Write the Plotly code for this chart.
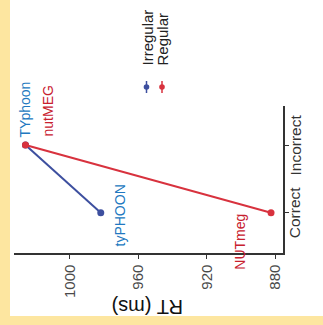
import plotly.graph_objects as go

# ---- data ----
categories = ["Correct", "Incorrect"]
series_names = ["Irregular", "Regular"]
irregular_rt = [982, 1026]
regular_rt = [882.5, 1026]
irregular_labels = ["tyPHOON", "TYphoon"]
regular_labels = ["NUTmeg", "nutMEG"]
x_tick_vals = [1000, 960, 920, 880]
x_tick_text = ["1000", "960", "920", "880"]
axis_title = "RT (ms)"

# ---- style ----
W, H = 323, 325
L, R, T, B = 14, 40, 106, 72
PW, PH = W - L - R, H - T - B
FONT = "Arial, Liberation Sans, sans-serif"
line_cols = ["#3d4f9f", "#d8323e"]
text_cols = ["#2178c0", "#c8202e"]
yellow = "#fde6a0"


def px_x(px):
    return (px - L) / PW


def px_y(py):
    return (H - B - py) / PH


fig = go.Figure()
for name, vals, lc in zip(series_names, [irregular_rt, regular_rt], line_cols):
    fig.add_trace(go.Scatter(
        x=vals, y=categories, mode="lines+markers", name=name,
        line=dict(color=lc, width=2), marker=dict(color=lc, size=7),
        showlegend=False, cliponaxis=False, hoverinfo="skip",
    ))

# data labels (rotated like the reference)
label_shifts = {
    ("Irregular", 0): (19, -3),
    ("Irregular", 1): (0, 36),
    ("Regular", 0): (-31, -29),
    ("Regular", 1): (23, 34),
}
annotations = []
for si, (name, vals, labs) in enumerate(zip(series_names, [irregular_rt, regular_rt],
                                             [irregular_labels, regular_labels])):
    for ci, (v, lab) in enumerate(zip(vals, labs)):
        dx, dy = label_shifts[(name, ci)]
        annotations.append(dict(
            x=v, y=categories[ci], xref="x", yref="y", text=lab, showarrow=False,
            textangle=-90, xanchor="center", yanchor="middle", xshift=dx, yshift=dy,
            font=dict(family=FONT, size=14, color=text_cols[si]),
        ))

# category tick labels (rotated, close to the axis line)
for cat in categories:
    annotations.append(dict(
        x=px_x(294.5), y=cat, xref="paper", yref="y", text=cat, showarrow=False,
        textangle=-90, xanchor="center", yanchor="middle",
        font=dict(family=FONT, size=15.5, color="#333333"),
    ))

# axis title (upside down)
annotations.append(dict(
    x=px_x(148), y=px_y(307), xref="paper", yref="paper", text=axis_title,
    showarrow=False, textangle=180, xanchor="center", yanchor="middle",
    font=dict(family=FONT, size=20, color="#111111"),
))

# legend (rotated)
legend_x = [146.5, 162]
for name, lx, lc in zip(series_names, legend_x, line_cols):
    annotations.append(dict(
        x=px_x(lx), y=px_y(68), xref="paper", yref="paper", text=name,
        showarrow=False, textangle=-90, xanchor="center", yanchor="bottom",
        font=dict(family=FONT, size=15, color="#222222"),
    ))

shapes = [
    dict(type="rect", xref="paper", yref="paper", layer="below",
         x0=px_x(10), x1=px_x(W + 2), y0=px_y(316), y1=px_y(-2),
         fillcolor="white", line=dict(width=0)),
]
for lx, lc in zip(legend_x, line_cols):
    shapes.append(dict(type="line", xref="paper", yref="paper",
                       x0=px_x(lx), x1=px_x(lx), y0=px_y(81), y1=px_y(93),
                       line=dict(color=lc, width=1.5)))
    shapes.append(dict(type="circle", xref="paper", yref="paper",
                       x0=px_x(lx - 2.8), x1=px_x(lx + 2.8), y0=px_y(84.2), y1=px_y(89.8),
                       fillcolor=lc, line=dict(color=lc, width=0)))

fig.update_layout(
    width=W, height=H, autosize=False,
    margin=dict(l=L, r=R, t=T, b=B, pad=0),
    paper_bgcolor=yellow, plot_bgcolor="rgba(0,0,0,0)",
    annotations=annotations, shapes=shapes, showlegend=False,
    font=dict(family=FONT), hovermode=False,
)
fig.update_xaxes(
    range=[1032.7, 875.5], tickvals=x_tick_vals, ticktext=x_tick_text,
    tickangle=-90, ticks="outside", ticklen=4, tickwidth=1, tickcolor="#333333",
    showline=True, linecolor="#333333", linewidth=1.6, showgrid=False, zeroline=False,
    tickfont=dict(family=FONT, size=15, color="#4a4a4a"),
)
fig.update_yaxes(
    type="category", categoryorder="array", categoryarray=categories,
    range=[-0.595, 1.576], side="right", showticklabels=False,
    ticks="outside", ticklen=4, tickwidth=1, tickcolor="#333333",
    showline=True, linecolor="#333333", linewidth=1.6, showgrid=False, zeroline=False,
)

fig.write_html(
    "out.html",
    config={"displayModeBar": False, "staticPlot": True},
    post_script="document.body.style.margin='0';document.body.style.padding='0';",
)
